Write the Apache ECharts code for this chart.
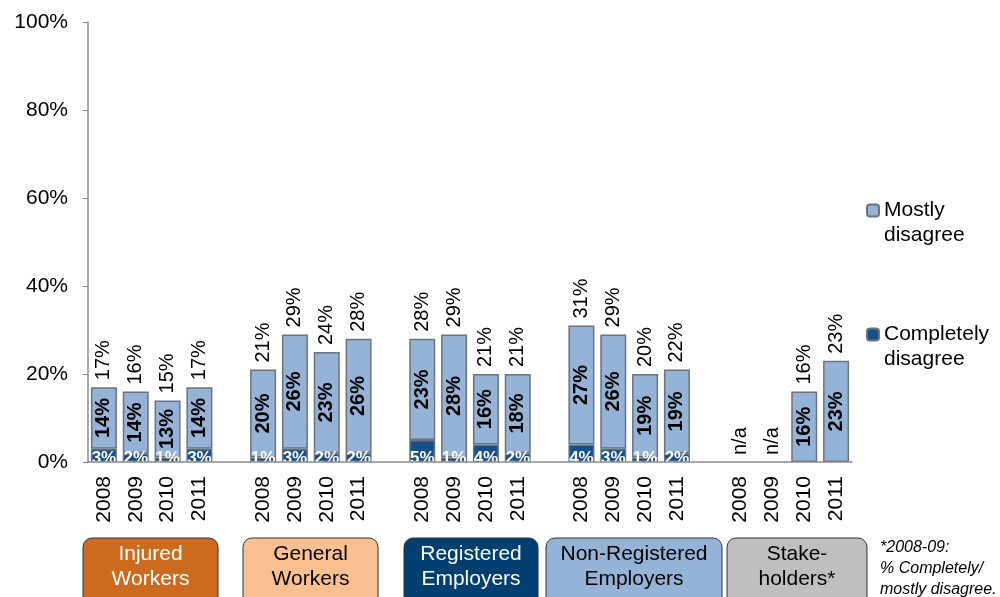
<!DOCTYPE html>
<html>
<head>
<meta charset="utf-8">
<script src="https://cdn.jsdelivr.net/npm/echarts@6/dist/echarts.min.js"></script>
<style>
  html, body { margin: 0; padding: 0; background: #fff; }
  #chart { width: 1000px; height: 597px; }
</style>
</head>
<body>
<div id="chart"></div>
<script>
(function () {
    // groups of respondents, each with 4 survey years
    const groups = ['Injured\nWorkers', 'General\nWorkers', 'Registered\nEmployers', 'Non-Registered\nEmployers', 'Stake-\nholders*'];
    const years = ['2008', '2009', '2010', '2011'];

    // % completely disagree, per group (null = not asked)
    const completely = [
        [3, 2, 1, 3],
        [1, 3, 2, 2],
        [5, 1, 4, 2],
        [4, 3, 1, 2],
        [null, null, null, null]
    ];
    // % mostly disagree
    const mostly = [
        [14, 14, 13, 14],
        [20, 26, 23, 26],
        [23, 28, 16, 18],
        [27, 26, 19, 19],
        [null, null, 16, 23]
    ];
    // total labels shown above each bar
    const totals = [
        ['17%', '16%', '15%', '17%'],
        ['21%', '29%', '24%', '28%'],
        ['28%', '29%', '21%', '21%'],
        ['31%', '29%', '20%', '22%'],
        ['n/a', 'n/a', '16%', '23%']
    ];
    const yTicks = [0, 20, 40, 60, 80, 100];

    const FONT = '"Liberation Sans", Arial, sans-serif';
    const LIGHT = '#95b3d7';
    const DARK = '#15508a';
    const EDGE = '#6b737c';

    // flatten with an empty category between groups
    const cats = [], compData = [], mostData = [], topData = [], topText = [];
    groups.forEach(function (g, gi) {
        if (gi > 0) {
            cats.push('');
            compData.push(null); mostData.push(null); topData.push(null); topText.push('');
        }
        years.forEach(function (y, yi) {
            cats.push(y);
            compData.push(completely[gi][yi]);
            mostData.push(mostly[gi][yi]);
            topData.push(0);
            topText.push(totals[gi][yi]);
        });
    });

    const boxes = [
        { x: 83, w: 135, fill: '#cc6b1e', color: '#fff' },
        { x: 243, w: 135, fill: '#fac090', color: '#000' },
        { x: 404, w: 134, fill: '#003f6f', color: '#fff' },
        { x: 546, w: 176, fill: '#95b3d7', color: '#000' },
        { x: 727, w: 140, fill: '#bfbfbf', color: '#000' }
    ];
    const graphics = [
        // hides the part of the small labels that falls below the axis
        { type: 'rect', z: 50, shape: { x: 88, y: 463, width: 764, height: 8 }, style: { fill: '#fff' } }
    ];
    boxes.forEach(function (b, i) {
        graphics.push({
            type: 'rect',
            shape: { x: b.x, y: 538, width: b.w, height: 70, r: 9 },
            style: { fill: b.fill, stroke: '#333', lineWidth: 1 }
        });
        graphics.push({
            type: 'text',
            x: b.x + b.w / 2, y: 542,
            style: {
                text: groups[i], fill: b.color, font: '21px ' + FONT,
                textAlign: 'center', lineHeight: 25
            }
        });
    });
    graphics.push({
        type: 'text', x: 880, y: 537,
        style: {
            text: '*2008-09:\n% Completely/\nmostly disagree.',
            fill: '#000', font: 'italic 16px ' + FONT, lineHeight: 21
        }
    });

    const option = {
        animation: false,
        textStyle: { fontFamily: FONT },
        grid: { left: 88, right: 148, top: 22, bottom: 135, containLabel: false },
        legend: {
            orient: 'vertical',
            left: 861,
            top: 168,
            itemGap: 49,
            itemWidth: 12,
            itemHeight: 12,
            data: ['Mostly disagree', 'Completely disagree'],
            // blank first line so the marker sits beside the first word
            formatter: function (n) { return '\n' + n.replace(' ', '\n'); },
            textStyle: { fontSize: 21, color: '#000', lineHeight: 25 }
        },
        xAxis: {
            type: 'category',
            z: 60,
            data: cats,
            axisLine: { lineStyle: { color: '#8c8c8c', width: 1.5 } },
            axisTick: { lineStyle: { color: '#8c8c8c' }, length: 5, interval: 0 },
            axisLabel: { rotate: 90, fontSize: 21, color: '#000', margin: 14, interval: 0 }
        },
        yAxis: {
            type: 'value',
            min: 0, max: 100, interval: 20,
            axisLine: { show: true, lineStyle: { color: '#8c8c8c', width: 1.5 } },
            axisTick: { show: true, length: 5, lineStyle: { color: '#8c8c8c' } },
            splitLine: { show: false },
            axisLabel: {
                fontSize: 21, color: '#000', margin: 20,
                formatter: function (v) { return yTicks.indexOf(v) >= 0 ? v + '%' : ''; }
            }
        },
        series: [
            {
                name: 'Completely disagree',
                type: 'bar',
                stack: 'a',
                barWidth: 26,
                data: compData,
                itemStyle: { color: DARK, borderColor: EDGE, borderWidth: 1.5 },
                label: {
                    show: true,
                    position: 'insideBottom',
                    distance: -5,
                    color: '#fff',
                    fontWeight: 'bold',
                    fontSize: 17,
                    formatter: '{c}%'
                }
            },
            {
                name: 'Mostly disagree',
                type: 'bar',
                stack: 'a',
                barWidth: 26,
                data: mostData,
                itemStyle: { color: LIGHT, borderColor: EDGE, borderWidth: 1.5 },
                label: {
                    show: true,
                    position: 'inside',
                    rotate: 90,
                    color: '#000',
                    fontWeight: 'bold',
                    fontSize: 20,
                    formatter: '{c}%'
                }
            },
            {
                name: 'total',
                type: 'bar',
                stack: 'a',
                barWidth: 26,
                data: topData,
                itemStyle: { color: 'transparent' },
                label: {
                    show: true,
                    position: 'top',
                    rotate: 90,
                    align: 'left',
                    verticalAlign: 'middle',
                    distance: 7,
                    color: '#000',
                    fontSize: 20,
                    formatter: function (p) { return topText[p.dataIndex]; }
                }
            }
        ],
        graphic: graphics
    };

    const myChart = echarts.init(document.getElementById('chart'));
    myChart && myChart.setOption(option);
}());
</script>
</body>
</html>
